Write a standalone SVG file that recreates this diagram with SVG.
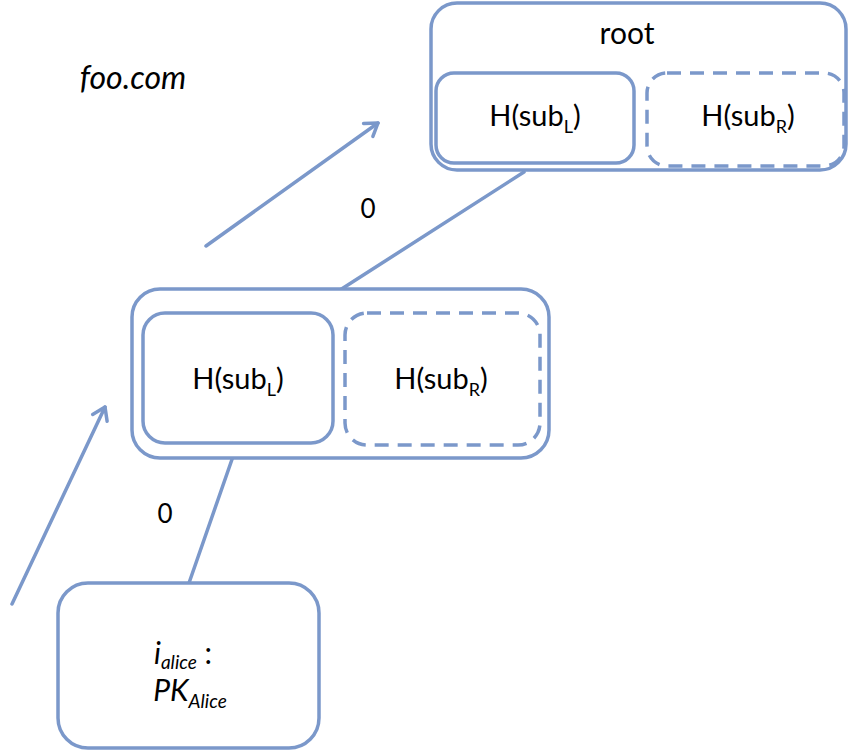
<svg xmlns="http://www.w3.org/2000/svg" width="850" height="754" viewBox="0 0 850 754">
<defs>
<style>
.box{fill:#fff;stroke:#7b98ca;stroke-width:3.5}
.dash{fill:none;stroke:#7b98ca;stroke-width:3.5;stroke-dasharray:14 9}
.ln{fill:none;stroke:#7b98ca;stroke-width:3.5;stroke-linecap:round}
.t{font-family:Lato,"Open Sans","Liberation Sans",sans-serif;fill:#000;text-anchor:middle}
</style>
<marker id="arr" markerWidth="10" markerHeight="10" refX="7" refY="5" orient="auto" markerUnits="userSpaceOnUse" viewBox="0 0 10 10" overflow="visible">
<path d="M-5,-3 L7,5 L-5,13" fill="none" stroke="#7b98ca" stroke-width="3.5" stroke-linecap="round" stroke-linejoin="round"/>
</marker>
</defs>
<rect width="850" height="754" fill="#fff"/>
<g id="connectors">
<line class="ln" x1="524" y1="172" x2="340" y2="290"/>
<line class="ln" x1="237" y1="445" x2="189" y2="583"/>
<line class="ln" x1="206" y1="246" x2="378" y2="123" marker-end="url(#arr)"/>
<line class="ln" x1="12" y1="604" x2="105" y2="407" marker-end="url(#arr)"/>
</g>
<g id="label-foo"><text class="t" x="133" y="89" font-size="32" font-style="italic">foo.com</text></g>
<g id="root">
<rect class="box" x="431" y="3" width="415" height="167" rx="26"/>
<text class="t" x="627" y="44" font-size="30">root</text>
<g id="root-left">
<rect class="box" x="436" y="73" width="198" height="90" rx="18"/>
<text class="t" x="535" y="126" font-size="29">H(sub<tspan font-size="18" dy="7">L</tspan><tspan dy="-7">)</tspan></text>
</g>
<g id="root-right">
<rect class="dash" x="647" y="73" width="197" height="93" rx="20"/>
<text class="t" x="748" y="126" font-size="29">H(sub<tspan font-size="18" dy="7">R</tspan><tspan dy="-7">)</tspan></text>
</g>
</g>
<g id="mid">
<rect class="box" x="132" y="289" width="417" height="169" rx="28"/>
<g id="mid-left">
<rect class="box" x="143" y="313" width="190" height="130" rx="22"/>
<text class="t" x="238" y="389" font-size="29">H(sub<tspan font-size="18" dy="7">L</tspan><tspan dy="-7">)</tspan></text>
</g>
<g id="mid-right">
<rect class="dash" x="345" y="313" width="195" height="132" rx="22"/>
<text class="t" x="441" y="389" font-size="29">H(sub<tspan font-size="18" dy="7">R</tspan><tspan dy="-7">)</tspan></text>
</g>
</g>
<g id="leaf">
<rect class="box" x="58" y="583" width="261" height="165" rx="30"/>
<text class="t" x="183" y="664" font-size="30" font-style="italic">i<tspan font-size="19" dy="5">alice</tspan><tspan dy="-5" font-style="normal"> :</tspan></text>
<text class="t" x="190" y="701" font-size="30" font-style="italic">PK<tspan font-size="19" dy="7">Alice</tspan></text>
</g>
<g id="edge-labels">
<text class="t" x="368" y="218" font-size="26">0</text>
<text class="t" x="165" y="523" font-size="26">0</text>
</g>
</svg>
